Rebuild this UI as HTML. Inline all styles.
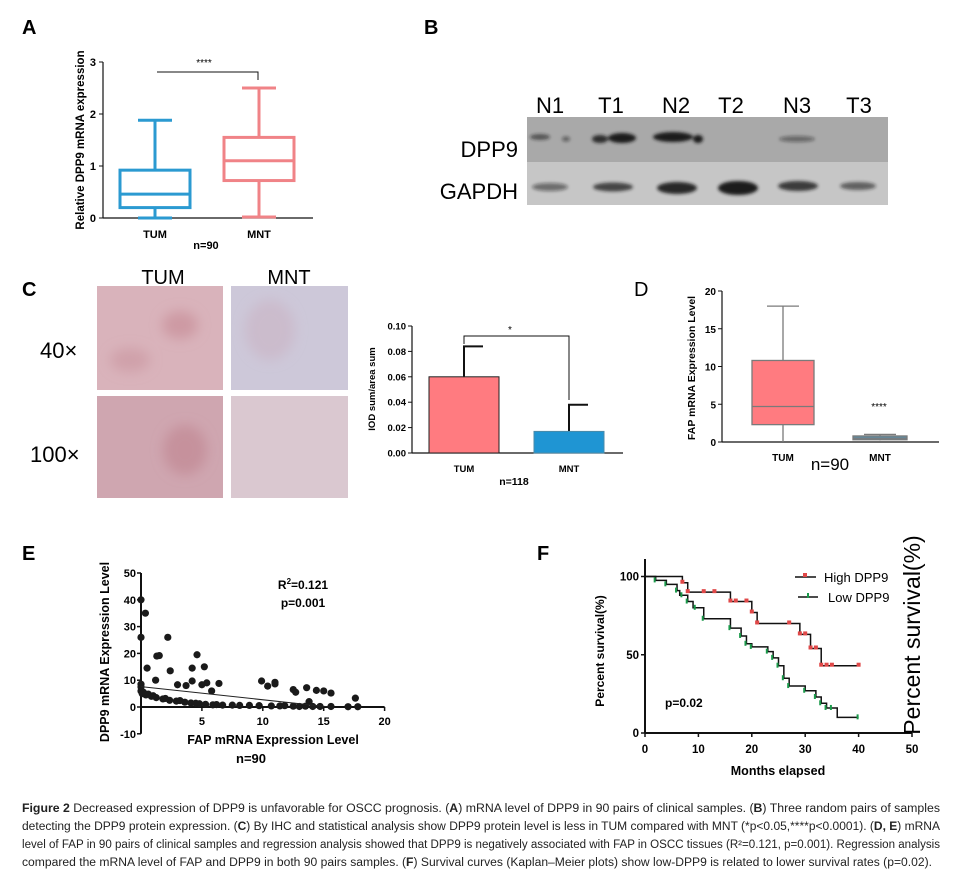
<!DOCTYPE html>
<html><head><meta charset="utf-8"><style>
html,body{margin:0;padding:0;background:#fff}
svg{display:block;font-family:"Liberation Sans",Arial,sans-serif}
.b{font-weight:bold}
</style></head><body>
<svg id="fig" width="962" height="875" viewBox="0 0 962 875" xmlns="http://www.w3.org/2000/svg">
<defs><filter id="blur" x="-20%" y="-50%" width="140%" height="200%"><feGaussianBlur stdDeviation="1.6"/></filter>
<filter id="blur2"><feGaussianBlur stdDeviation="6"/></filter></defs>
<g id="pA"></g>
<g id="pB">
 <text x="424" y="34" font-size="20" class="b">B</text>
 <g font-size="22" text-anchor="middle">
  <text x="550" y="113">N1</text><text x="611" y="113">T1</text><text x="676" y="113">N2</text>
  <text x="731" y="113">T2</text><text x="797" y="113">N3</text><text x="859" y="113">T3</text>
 </g>
 <rect x="527" y="117" width="361" height="45" fill="#a9a9a9"/>
 <rect x="527" y="162" width="361" height="43" fill="#c6c6c6"/>
 <g fill="#1a1a1a" filter="url(#blur)">
  <ellipse cx="540" cy="137" rx="10" ry="3" opacity=".6"/><ellipse cx="566" cy="139" rx="4" ry="2.5" opacity=".5"/>
  <ellipse cx="600" cy="139" rx="8" ry="4" opacity=".85"/><ellipse cx="622" cy="138" rx="14" ry="5"/>
  <ellipse cx="673" cy="137" rx="20" ry="5"/><ellipse cx="698" cy="139" rx="5" ry="4"/>
  <ellipse cx="797" cy="139" rx="18" ry="3" opacity=".45"/>
  <ellipse cx="550" cy="187" rx="18" ry="4" opacity=".5"/><ellipse cx="613" cy="187" rx="20" ry="4.5" opacity=".75"/>
  <ellipse cx="677" cy="188" rx="20" ry="6" opacity=".9"/><ellipse cx="738" cy="188" rx="20" ry="7"/>
  <ellipse cx="798" cy="186" rx="20" ry="5" opacity=".8"/><ellipse cx="858" cy="186" rx="18" ry="4" opacity=".6"/>
 </g>
 <text x="518" y="157" font-size="22" text-anchor="end">DPP9</text>
 <text x="518" y="199" font-size="22" text-anchor="end">GAPDH</text>
</g>
<g id="pCimg">
 <text x="22" y="296" font-size="20" class="b">C</text>
 <text x="163" y="284" font-size="20" text-anchor="middle">TUM</text>
 <text x="289" y="284" font-size="20" text-anchor="middle">MNT</text>
 <text x="40" y="358" font-size="22">40×</text>
 <text x="30" y="462" font-size="22">100×</text>
 <rect x="97" y="286" width="126" height="104" fill="#d9b3bb"/>
 <rect x="231" y="286" width="117" height="104" fill="#cdc8d9"/>
 <rect x="97" y="396" width="126" height="102" fill="#cfa6b0"/>
 <rect x="231" y="396" width="117" height="102" fill="#dac8d0"/>
 <g filter="url(#blur2)">
 <ellipse cx="180" cy="325" rx="18" ry="14" fill="#c98e98" opacity=".7"/><ellipse cx="130" cy="360" rx="20" ry="12" fill="#c9959e" opacity=".6"/>
 <ellipse cx="185" cy="450" rx="22" ry="25" fill="#c08490" opacity=".6"/><ellipse cx="270" cy="330" rx="25" ry="30" fill="#c9b0c0" opacity=".5"/>
 </g>
</g>
<g id="pC"></g>
<g id="pD"></g>
<g id="pE"></g>
<g id="pF"></g>
<g id="caption" font-size="11.5" fill="#222">
 <text x="22" y="812" textLength="918" lengthAdjust="spacingAndGlyphs"><tspan font-weight="bold">Figure 2</tspan> Decreased expression of DPP9 is unfavorable for OSCC prognosis. (<tspan font-weight="bold">A</tspan>) mRNA level of DPP9 in 90 pairs of clinical samples. (<tspan font-weight="bold">B</tspan>) Three random pairs of samples</text>
 <text x="22" y="830" textLength="918" lengthAdjust="spacingAndGlyphs">detecting the DPP9 protein expression. (<tspan font-weight="bold">C</tspan>) By IHC and statistical analysis show DPP9 protein level is less in TUM compared with MNT (*p&lt;0.05,****p&lt;0.0001). (<tspan font-weight="bold">D, E</tspan>) mRNA</text>
 <text x="22" y="848" textLength="918" lengthAdjust="spacingAndGlyphs">level of FAP in 90 pairs of clinical samples and regression analysis showed that DPP9 is negatively associated with FAP in OSCC tissues (R²=0.121, p=0.001). Regression analysis</text>
 <text x="22" y="866" textLength="910" lengthAdjust="spacingAndGlyphs">compared the mRNA level of FAP and DPP9 in both 90 pairs samples. (<tspan font-weight="bold">F</tspan>) Survival curves (Kaplan–Meier plots) show low-DPP9 is related to lower survival rates (p=0.02).</text>
</g>
</svg>
<script>
// ---- Panel A data ----
const aGroups = ["TUM","MNT"];
const aMin = [0, 0.02], aQ1 = [0.2, 0.72], aMed = [0.46, 1.1], aQ3 = [0.92, 1.55], aMax = [1.88, 2.5];
const aTicks = [0,1,2,3];
// ---- Panel C bar data ----
const cGroups = ["TUM","MNT"];
const cMeans = [0.060, 0.017];
const cErr = [0.024, 0.021];
const cTicks = ["0.00","0.02","0.04","0.06","0.08","0.10"];
// ---- Panel D data ----
const dGroups = ["TUM","MNT"];
const dMin = [0, 0.2], dQ1 = [2.3, 0.3], dMed = [4.7, 0.5], dQ3 = [10.8, 0.8], dMax = [18, 1.0];
const dTicks = [0,5,10,15,20];
// ---- Panel E data ----
const eFap = [0,0,0.36,0.5,1.2,1.3,1.5,2.2,2.4,3,3.7,4.2,4.2,4.6,5,5.2,5.4,5.8,6.4,9.9,10.4,11,11,12.5,12.7,13.6,13.8,14.4,15,15.6,17.6,
 0,0,0,0.1,0.4,0.85,1.25,1.8,2.35,2.9,3.6,4.1,4.8,5.3,5.9,6.7,7.5,8.1,8.9,9.7,10.7,11.4,12.5,13,14.1,14.7,15.6,17,17.8,0.2,0.6,1,2,3.2,4.5,6.2,11.8,13.5];
const eDpp = [40,26,35,14.5,10,19,19.2,26,13.5,8.3,8,14.5,9.7,19.5,8.3,15,9,6,8.8,9.7,7.8,9.2,8.6,6.5,5.5,7.2,2,6.2,6,5.2,3.3,
 8.5,7.5,6,5,4.5,4,3.5,3,2.5,2.2,1.8,1.5,1.2,1,0.8,0.7,0.7,0.6,0.6,0.5,0.4,0.4,0.3,0.2,0.2,0.2,0.2,0.1,0.1,5.5,4.8,4.2,3.2,2.4,1.4,0.9,0.5,0.3];
const eIntercept = 7.6, eSlope = -0.49;
const eXTicks = [5,10,15,20], eYTicks = [-10,0,10,20,30,40,50];
// ---- Panel F data ----
const fHighT = [0,7,8,16,20,21,29,31,33,40];
const fHighS = [100,96,90,84,77,70,63,54,43,43];
const fHighCensT = [7,8,11,13,16,17,19,20,21,27,29,30,31,32,33,34,35,40];
const fLowT = [0,2,4,6,6.5,8,9,11,16,18,19,20,23,24,25,26,27,30,32,33,34,36,40];
const fLowS = [100,97.5,95,91,88,84,80,73,67,62,57,55,52,48,43,35,30,27,23,19,16,10,10];
const fLowCensT = [2,4,6,7,8,9.5,11,16,18,19,20,23,24,25,26,27,30,32,33,34,35,40];
const fXTicks = [0,10,20,30,40,50], fYTicks = [0,50,100];

const NS="http://www.w3.org/2000/svg";
function mk(parent, tag, attrs, text){const e=document.createElementNS(NS,tag);for(const k in attrs)e.setAttribute(k,attrs[k]);if(text!==undefined)e.textContent=text;parent.appendChild(e);return e;}
function stepAt(T,S,t){let s=S[0];for(let i=0;i<T.length;i++){if(T[i]<=t)s=S[i];}return s;}

// ===== Panel A =====
(function(){
 const g=document.getElementById('pA');
 const y=v=>218-v*52, ax=103, cx=[155,259], colors=["#2b9ad1","#f08387"];
 let t=mk(g,'text',{x:22,y:34,'font-size':20,'font-weight':'bold'},'A');
  
 let l=mk(g,'line',{x1:ax,y1:y(3),x2:ax,y2:y(0),stroke:'#111','stroke-width':1.2});
  
 l=mk(g,'line',{x1:ax,y1:y(0),x2:313,y2:y(0),stroke:'#111','stroke-width':1.2});
  
 aTicks.forEach(v=>{mk(g,'line',{x1:ax-4,y1:y(v),x2:ax,y2:y(v),stroke:'#111'});
  const tt=mk(g,'text',{x:ax-7,y:y(v)+4,'font-size':11,'font-weight':'bold','text-anchor':'end'},v);
   });
 aGroups.forEach((n,i)=>{
  const bx=mk(g,'g',{stroke:colors[i],'stroke-width':3,fill:'none'});
   
  const c=cx[i], hw=35;
  mk(bx,'rect',{x:c-hw,y:y(aQ3[i]),width:2*hw,height:y(aQ1[i])-y(aQ3[i])});
  mk(bx,'line',{x1:c-hw,y1:y(aMed[i]),x2:c+hw,y2:y(aMed[i])});
  mk(bx,'line',{x1:c,y1:y(aQ3[i]),x2:c,y2:y(aMax[i])});
  mk(bx,'line',{x1:c,y1:y(aQ1[i]),x2:c,y2:y(aMin[i])});
  mk(bx,'line',{x1:c-17,y1:y(aMax[i]),x2:c+17,y2:y(aMax[i])});
  mk(bx,'line',{x1:c-17,y1:y(aMin[i]),x2:c+17,y2:y(aMin[i])});
  const tl=mk(g,'text',{x:c,y:238,'font-size':11,'font-weight':'bold','text-anchor':'middle'},n);
   
 });
 const br=mk(g,'path',{d:'M157 72 H258 V80',fill:'none',stroke:'#111','stroke-width':1});
  
 mk(g,'text',{x:204,y:66,'font-size':10,'text-anchor':'middle'},'****');
 t=mk(g,'text',{x:206,y:249,'font-size':11,'font-weight':'bold','text-anchor':'middle'},'n=90');
  
 t=mk(g,'text',{x:0,y:0,'font-size':11.5,'font-weight':'bold','text-anchor':'middle',transform:'translate(84,140) rotate(-90)'},'Relative DPP9 mRNA expression');
  
})();

// ===== Panel C bar =====
(function(){
 const g=document.getElementById('pC');
 const y=v=>453-v*1270, ax=412, cx=[464,569], colors=["#ff7b80","#1f95d3"], bw=70;
 mk(g,'line',{x1:ax,y1:326,x2:ax,y2:453,stroke:'#111','stroke-width':1.2});
 mk(g,'line',{x1:ax,y1:453,x2:623,y2:453,stroke:'#111','stroke-width':1.2});
 cTicks.forEach(s=>{const v=parseFloat(s);mk(g,'line',{x1:ax-4,y1:y(v),x2:ax,y2:y(v),stroke:'#111'});
  const tt=mk(g,'text',{x:ax-6,y:y(v)+3.5,'font-size':9.5,'font-weight':'bold','text-anchor':'end'},s);
   });
 cGroups.forEach((n,i)=>{
  const c=cx[i];
  mk(g,'line',{x1:c,y1:y(cMeans[i]),x2:c,y2:y(cMeans[i]+cErr[i]),stroke:'#111','stroke-width':2});
  mk(g,'line',{x1:c-1,y1:y(cMeans[i]+cErr[i]),x2:c+19,y2:y(cMeans[i]+cErr[i]),stroke:'#111','stroke-width':2});
  const r=mk(g,'rect',{x:c-35,y:y(cMeans[i]),width:bw,height:453-y(cMeans[i]),fill:colors[i],stroke:i?'#4a8aa8':'#222','stroke-width':1});
   
  const tl=mk(g,'text',{x:c,y:472,'font-size':9.5,'font-weight':'bold','text-anchor':'middle'},n);
   
 });
 const br=mk(g,'path',{d:'M464 344 V336 H569 V400',fill:'none',stroke:'#111','stroke-width':1});
  
 mk(g,'text',{x:510,y:333,'font-size':10,'text-anchor':'middle'},'*');
 let t=mk(g,'text',{x:514,y:485,'font-size':10.5,'font-weight':'bold','text-anchor':'middle'},'n=118');
  
 t=mk(g,'text',{x:0,y:0,'font-size':9.5,'font-weight':'bold','text-anchor':'middle',transform:'translate(375,389) rotate(-90)'},'IOD sum/area sum');
  
})();

// ===== Panel D =====
(function(){
 const g=document.getElementById('pD');
 const y=v=>442-v*7.55, ax=722, cx=[783,880], hw=[31,27], fills=["#ff7b80","#5b8ea6"];
 let t=mk(g,'text',{x:634,y:296,'font-size':20},'D');
  
 mk(g,'line',{x1:ax,y1:291,x2:ax,y2:442,stroke:'#111','stroke-width':1.2});
 mk(g,'line',{x1:ax,y1:442,x2:939,y2:442,stroke:'#111','stroke-width':1.2});
 dTicks.forEach(v=>{mk(g,'line',{x1:ax-4,y1:y(v),x2:ax,y2:y(v),stroke:'#111'});
  const tt=mk(g,'text',{x:ax-6,y:y(v)+4,'font-size':10,'font-weight':'bold','text-anchor':'end'},v);
   });
 dGroups.forEach((n,i)=>{
  const bx=mk(g,'g',{stroke:'#7a7a7a','stroke-width':1.3});
   
  const c=cx[i];
  mk(bx,'line',{x1:c,y1:y(dMax[i]),x2:c,y2:y(dMin[i])});
  mk(bx,'line',{x1:c-16,y1:y(dMax[i]),x2:c+16,y2:y(dMax[i])});
  mk(bx,'rect',{x:c-hw[i],y:y(dQ3[i]),width:2*hw[i],height:Math.max(2,y(dQ1[i])-y(dQ3[i])),fill:fills[i]});
  mk(bx,'line',{x1:c-hw[i],y1:y(dMed[i]),x2:c+hw[i],y2:y(dMed[i])});
  const tl=mk(g,'text',{x:c,y:461,'font-size':10,'font-weight':'bold','text-anchor':'middle'},n);
   
 });
 mk(g,'text',{x:879,y:410,'font-size':10,'text-anchor':'middle'},'****');
 t=mk(g,'text',{x:830,y:470,'font-size':17,'text-anchor':'middle'},'n=90');
  
 t=mk(g,'text',{x:0,y:0,'font-size':10.5,'font-weight':'bold','text-anchor':'middle',transform:'translate(695,368) rotate(-90)'},'FAP mRNA Expression Level');
  
})();

// ===== Panel E =====
(function(){
 const g=document.getElementById('pE');
 const x=v=>141+v*12.18, y=v=>707-v*2.68;
 let t=mk(g,'text',{x:22,y:560,'font-size':20,'font-weight':'bold'},'E');
  
 mk(g,'line',{x1:x(0),y1:y(50),x2:x(0),y2:y(-10),stroke:'#111','stroke-width':2});
 mk(g,'line',{x1:x(0),y1:y(0),x2:x(20),y2:y(0),stroke:'#111','stroke-width':2});
 eYTicks.forEach(v=>{mk(g,'line',{x1:x(0)-4,y1:y(v),x2:x(0),y2:y(v),stroke:'#111','stroke-width':1.5});
  const tt=mk(g,'text',{x:x(0)-5,y:y(v)+4,'font-size':11,'font-weight':'bold','text-anchor':'end'},v);
   });
 eXTicks.forEach(v=>{mk(g,'line',{x1:x(v),y1:y(0),x2:x(v),y2:y(0)+4,stroke:'#111','stroke-width':1.5});
  const tt=mk(g,'text',{x:x(v),y:y(0)+18,'font-size':11,'font-weight':'bold','text-anchor':'middle'},v);
   });
 const pts=mk(g,'g',{fill:'#1a1a1a'});
  
 eFap.forEach((v,i)=>{const c=mk(pts,'circle',{cx:x(v),cy:y(eDpp[i]),r:3.6});
   });
 const xEnd=-eIntercept/eSlope;
 const rl=mk(g,'line',{x1:x(0),y1:y(eIntercept),x2:x(xEnd),y2:y(eIntercept+eSlope*xEnd),stroke:'#222','stroke-width':1});
  
 t=mk(g,'text',{x:303,y:589,'font-size':12,'font-weight':'bold','text-anchor':'middle'});
 t.innerHTML='R<tspan dy="-5" font-size="8">2</tspan><tspan dy="5">=0.121</tspan>';
  
 t=mk(g,'text',{x:303,y:607,'font-size':12,'font-weight':'bold','text-anchor':'middle'},'p=0.001');
  
 t=mk(g,'text',{x:273,y:744,'font-size':12.5,'font-weight':'bold','text-anchor':'middle'},'FAP mRNA Expression Level');
  
 t=mk(g,'text',{x:251,y:763,'font-size':13,'font-weight':'bold','text-anchor':'middle'},'n=90');
  
 t=mk(g,'text',{x:0,y:0,'font-size':12.5,'font-weight':'bold','text-anchor':'middle',transform:'translate(109,652) rotate(-90)'},'DPP9 mRNA Expression Level');
  
})();

// ===== Panel F =====
(function(){
 const g=document.getElementById('pF');
 const x=v=>645+v*5.34, y=v=>733-v*1.565;
 let t=mk(g,'text',{x:537,y:560,'font-size':20,'font-weight':'bold'},'F');
  
 mk(g,'line',{x1:x(0),y1:559,x2:x(0),y2:y(0),stroke:'#111','stroke-width':2});
 mk(g,'line',{x1:x(0),y1:y(0),x2:x(50),y2:y(0),stroke:'#111','stroke-width':2});
 fYTicks.forEach(v=>{mk(g,'line',{x1:x(0)-4,y1:y(v),x2:x(0),y2:y(v),stroke:'#111','stroke-width':1.5});
  const tt=mk(g,'text',{x:x(0)-6,y:y(v)+4,'font-size':11.5,'font-weight':'bold','text-anchor':'end'},v);
   });
 fXTicks.forEach(v=>{mk(g,'line',{x1:x(v),y1:y(0),x2:x(v),y2:y(0)+4,stroke:'#111','stroke-width':1.5});
  const tt=mk(g,'text',{x:x(v),y:y(0)+20,'font-size':11.5,'font-weight':'bold','text-anchor':'middle'},v);
   });
 function curve(T,S,C,col,name){
  let d=`M${x(T[0])} ${y(S[0])}`;
  for(let i=1;i<T.length;i++){d+=` H${x(T[i])} V${y(S[i])}`;}
  const p=mk(g,'path',{d:d,fill:'none',stroke:'#111','stroke-width':1.5});
   
  const mg=mk(g,'g',{fill:col});
   
  C.forEach(tc=>{const s=stepAt(T,S,tc);mk(mg,'rect',{x:x(tc)-2,y:y(s)-3,width:col==='#e04848'?4:2,height:col==='#e04848'?4:5});});
 }
 curve(fHighT,fHighS,fHighCensT,'#e04848','high-dpp9');
 curve(fLowT,fLowS,fLowCensT,'#1a9a4a','low-dpp9');
 const lg=mk(g,'g',{});
  
 mk(lg,'line',{x1:795,y1:577,x2:816,y2:577,stroke:'#111','stroke-width':1.5});
 mk(lg,'rect',{x:803,y:573,width:4,height:4,fill:'#e04848'});
 mk(lg,'text',{x:824,y:582,'font-size':13},'High DPP9');
 mk(lg,'line',{x1:798,y1:597,x2:818,y2:597,stroke:'#111','stroke-width':1.5});
 mk(lg,'rect',{x:807,y:593,width:2,height:5,fill:'#1a9a4a'});
 mk(lg,'text',{x:828,y:602,'font-size':13},'Low DPP9');
 t=mk(g,'text',{x:665,y:707,'font-size':12,'font-weight':'bold'},'p=0.02');
  
 t=mk(g,'text',{x:778,y:775,'font-size':12.5,'font-weight':'bold','text-anchor':'middle'},'Months   elapsed');
  
 t=mk(g,'text',{x:0,y:0,'font-size':12,'font-weight':'bold','text-anchor':'middle',transform:'translate(604,651) rotate(-90)'},'Percent survival(%)');
  
 t=mk(g,'text',{x:0,y:0,'font-size':23,'text-anchor':'middle',transform:'translate(920,635) rotate(-90)'},'Percent survival(%)');
  
})();
</script>
</body></html>
